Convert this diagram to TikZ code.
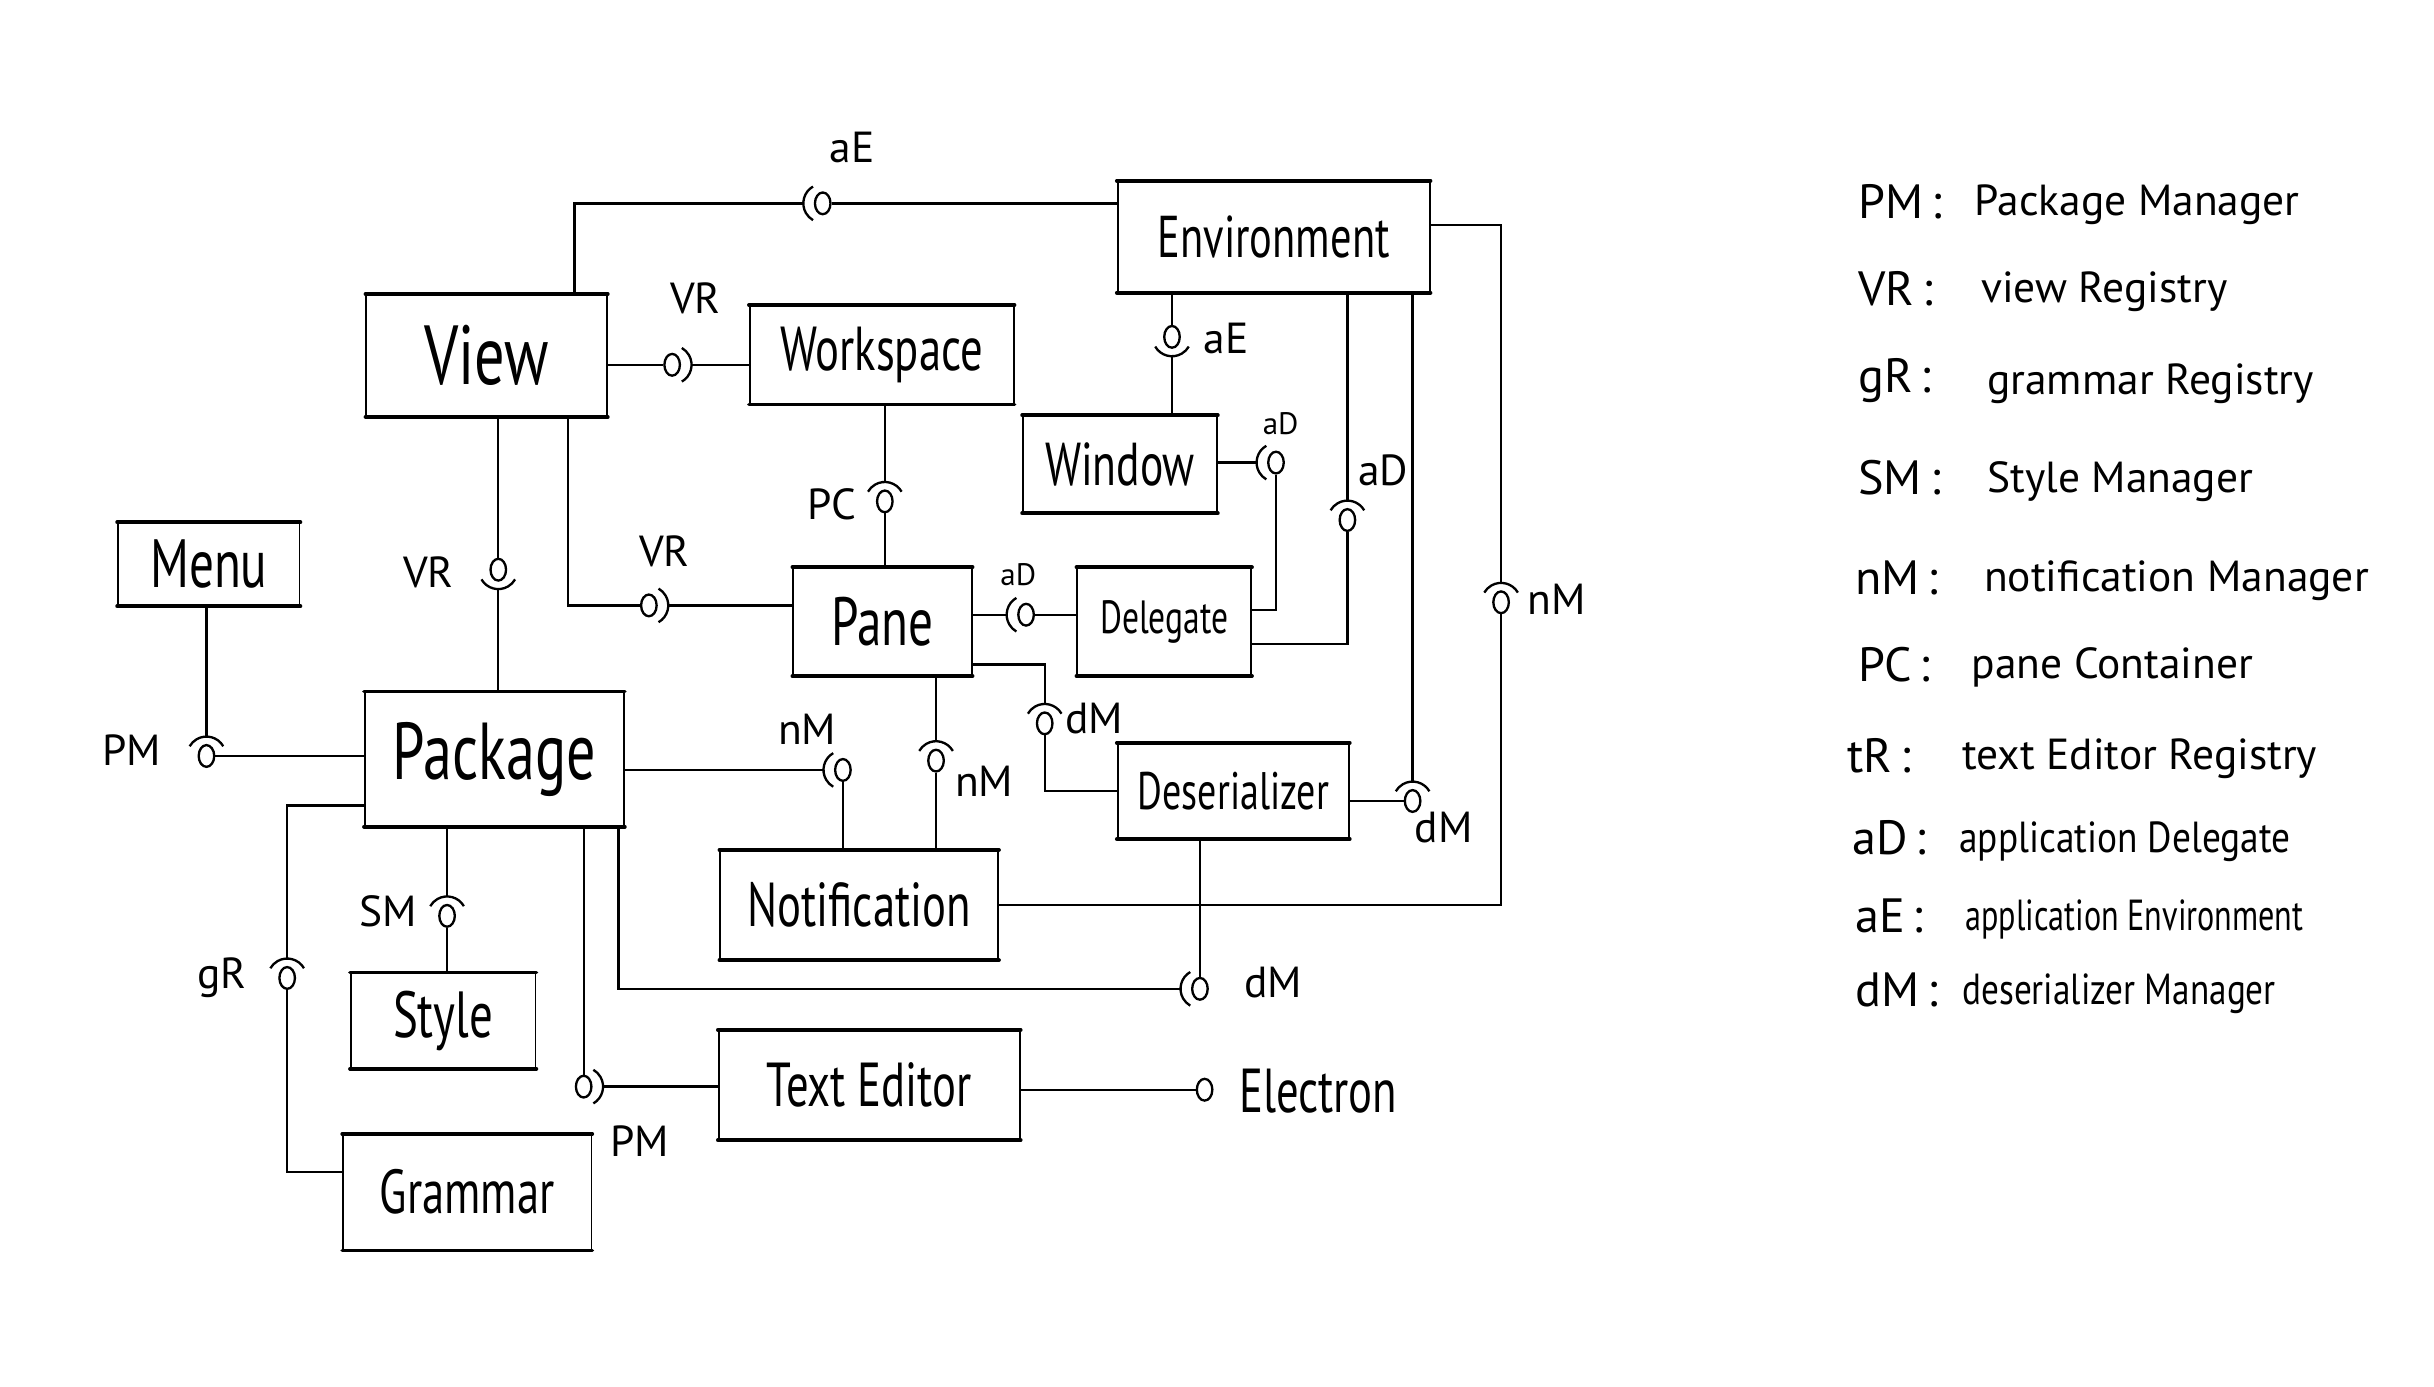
\documentclass[tikz,border=0pt]{standalone}
\usepackage{fontspec}
\usetikzlibrary{calc,shapes.geometric}
\newfontfamily\hand[FakeStretch=0.72]{PT Sans}
\newfontfamily\legfont{PT Sans}
\newcommand\myfs[1]{\fontsize{#1}{#1}\selectfont}
\newcommand\sockarc[3]{\draw[conn] ($(#1)+(#2:12.5pt)$) arc[start angle=#2,end angle=#3,radius=12.5pt];}
\tikzset{
  compbox/.style={draw,line width=1.1pt,inner sep=0pt,font=\hand},
  edgeline/.style={line width=2.4pt,line cap=round},
  conn/.style={line width=1.5pt},
  lolli/.style={draw,ellipse,line width=1.5pt,minimum width=10pt,minimum height=14pt,inner sep=0pt},
  lab/.style={font=\legfont\myfs{28},inner sep=0pt},
  slab/.style={font=\legfont\myfs{20},inner sep=0pt},
  legab/.style={font=\legfont\myfs{31},anchor=west,inner sep=0pt},
  legtx/.style={font=\legfont\myfs{28},anchor=west,inner sep=0pt},
}
\begin{document}
\begin{tikzpicture}[x=1pt,y=1pt]
\useasboundingbox (0,0) rectangle (1568,-893);
% components
\node[compbox,minimum width=201,minimum height=71,font=\hand\myfs{38}] (env) at (820.5,-152.5) {Environment};
\node[compbox,minimum width=155,minimum height=78,font=\hand\myfs{54}] (view) at (313.5,-229) {View};
\node[compbox,minimum width=170,minimum height=63,font=\hand\myfs{40}] (work) at (568,-228.5) {Workspace};
\node[compbox,minimum width=125,minimum height=62,font=\hand\myfs{39}] (win) at (721.5,-299) {Window};
\node[compbox,minimum width=117,minimum height=53,font=\hand\myfs{44}] (menu) at (134.5,-363.5) {Menu};
\node[compbox,minimum width=115,minimum height=69,font=\hand\myfs{44}] (pane) at (568.5,-400.5) {Pane};
\node[compbox,minimum width=112,minimum height=69,font=\hand\myfs{30}] (dele) at (750,-400.5) {Delegate};
\node[compbox,minimum width=167,minimum height=86,font=\hand\myfs{52}] (pkg) at (318.5,-489) {Package};
\node[compbox,minimum width=149,minimum height=61,font=\hand\myfs{34}] (des) at (794.5,-509.5) {Deserializer};
\node[compbox,minimum width=179,minimum height=70,font=\hand\myfs{40}] (noti) at (553.5,-583) {Notification};
\node[compbox,minimum width=119,minimum height=61,font=\hand\myfs{42}] (style) at (285.5,-657.5) {Style};
\node[compbox,minimum width=194,minimum height=70,font=\hand\myfs{40}] (ted) at (560,-699) {Text Editor};
\node[compbox,minimum width=160,minimum height=74,font=\hand\myfs{40}] (gram) at (301,-768) {Grammar};
\foreach \n in {env,view,work,win,menu,pane,dele,pkg,des,noti,style,ted,gram}
  \draw[edgeline] (\n.north west) -- (\n.north east) (\n.south west) -- (\n.south east);

% balls
\node[lolli] (b1) at (530,-131) {};
\node[lolli] (b2) at (433,-235) {};
\node[lolli] (b3) at (755,-217) {};
\node[lolli] (b4) at (822,-298) {};
\node[lolli] (b5) at (868,-335) {};
\node[lolli] (b6) at (910,-516) {};
\node[lolli] (b7) at (967,-388) {};
\node[lolli] (b8) at (570,-323) {};
\node[lolli] (b9) at (418,-390) {};
\node[lolli] (b10) at (321,-367) {};
\node[lolli] (b11) at (661,-396) {};
\node[lolli] (b12) at (673,-466) {};
\node[lolli] (b13) at (133,-487) {};
\node[lolli] (b14) at (543,-496) {};
\node[lolli] (b15) at (603,-490) {};
\node[lolli] (b16) at (185,-630) {};
\node[lolli] (b17) at (288,-590) {};
\node[lolli] (b18) at (376,-700) {};
\node[lolli] (b19) at (773,-637) {};
\node[lolli] (b20) at (776,-702) {};

% socket apex coordinates
\coordinate (s1) at ($(b1)+(-12.5,0)$);
\coordinate (s2) at ($(b2)+(12.5,0)$);
\coordinate (s3) at ($(b3)+(0,-12.5)$);
\coordinate (s4) at ($(b4)+(-12.5,0)$);
\coordinate (s5) at ($(b5)+(0,12.5)$);
\coordinate (s6) at ($(b6)+(0,12.5)$);
\coordinate (s7) at ($(b7)+(0,12.5)$);
\coordinate (s8) at ($(b8)+(0,12.5)$);
\coordinate (s9) at ($(b9)+(12.5,0)$);
\coordinate (s10) at ($(b10)+(0,-12.5)$);
\coordinate (s11) at ($(b11)+(-12.5,0)$);
\coordinate (s12) at ($(b12)+(0,12.5)$);
\coordinate (s13) at ($(b13)+(0,12.5)$);
\coordinate (s14) at ($(b14)+(-12.5,0)$);
\coordinate (s15) at ($(b15)+(0,12.5)$);
\coordinate (s16) at ($(b16)+(0,12.5)$);
\coordinate (s17) at ($(b17)+(0,12.5)$);
\coordinate (s18) at ($(b18)+(12.5,0)$);
\coordinate (s19) at ($(b19)+(-12.5,0)$);

% socket arcs
\sockarc{b1}{120}{240}
\sockarc{b2}{-60}{60}
\sockarc{b3}{210}{330}
\sockarc{b4}{120}{240}
\sockarc{b5}{30}{150}
\sockarc{b6}{30}{150}
\sockarc{b7}{30}{150}
\sockarc{b8}{30}{150}
\sockarc{b9}{-60}{60}
\sockarc{b10}{210}{330}
\sockarc{b11}{120}{240}
\sockarc{b12}{30}{150}
\sockarc{b13}{30}{150}
\sockarc{b14}{120}{240}
\sockarc{b15}{30}{150}
\sockarc{b16}{30}{150}
\sockarc{b17}{30}{150}
\sockarc{b18}{-60}{60}
\sockarc{b19}{120}{240}

% connectors
\draw[conn] ([xshift=56.5]view.north) |- (s1);
\draw[conn] (b1.east) -- (b1 -| env.west);
\draw[conn] (b2 -| view.east) -- (b2.west);
\draw[conn] (s2) -- (s2 -| work.west);
\draw[conn] (b3 |- env.south) -- (b3.north);
\draw[conn] (s3) -- (s3 |- win.north);
\draw[conn] (s4 -| win.east) -- (s4);
\draw[conn] (b4.south) |- ([yshift=7.5]dele.east);
\draw[conn] (b5 |- env.south) -- (s5);
\draw[conn] (b5.south) |- ([yshift=-14.5]dele.east);
\draw[conn] (b6 |- env.south) -- (s6);
\draw[conn] (b6.west) -- (b6 -| des.east);
\draw[conn] ([yshift=7.5]env.east) -| (s7);
\draw[conn] (b7.south) |- (noti.east);
\draw[conn] (s8 |- work.south) -- (s8);
\draw[conn] (b8.south) -- (b8 |- pane.north);
\draw[conn] ([xshift=52.5]view.south) |- (b9.west);
\draw[conn] (s9) -- (s9 -| pane.west);
\draw[conn] (b10 |- view.south) -- (b10.north);
\draw[conn] (s10) -- (s10 |- pkg.north);
\draw[conn] (s11 -| pane.east) -- (s11);
\draw[conn] (b11.east) -- (b11 -| dele.west);
\draw[conn] ([yshift=-27.5]pane.east) -| (s12);
\draw[conn] (b12.south) |- (des.west);
\draw[conn] (s13 |- menu.south) -- (s13);
\draw[conn] (b13.east) -- (b13 -| pkg.west);
\draw[conn] (s14 -| pkg.east) -- (s14);
\draw[conn] (b14.south) -- (b14 |- noti.north);
\draw[conn] (s15 |- pane.south) -- (s15);
\draw[conn] (b15.south) -- (b15 |- noti.north);
\draw[conn] ([yshift=-30]pkg.west) -| (s16);
\draw[conn] (b16.south) |- ([yshift=13]gram.west);
\draw[conn] (s17 |- pkg.south) -- (s17);
\draw[conn] (b17.south) -- (b17 |- style.north);
\draw[conn] (b18 |- pkg.south) -- (b18.north);
\draw[conn] (s18) -- (s18 -| ted.west);
\draw[conn] ([xshift=80]pkg.south) |- (s19);
\draw[conn] (b19.north) -- (b19 |- des.south);
\draw[conn] (b20 -| ted.east) -- (b20.west);

% interface labels
\node[lab] (l1) at (549,-95) {aE};
\node[lab] (l2) at (448,-192) {VR};
\node[lab] (l3) at (790,-218) {aE};
\node[slab] (l4) at (825,-273) {aD};
\node[lab] (l5) at (891,-303) {aD};
\node[lab] (l6) at (930,-533) {dM};
\node[lab] (l7) at (1003,-386) {nM};
\node[lab] (l8) at (536,-325) {PC};
\node[lab] (l9) at (428,-355) {VR};
\node[lab] (l10) at (276,-369) {VR};
\node[slab] (l11) at (656,-370) {aD};
\node[lab] (l12) at (705,-463) {dM};
\node[lab] (l13) at (85,-483) {PM};
\node[lab] (l14) at (520,-470) {nM};
\node[lab] (l15) at (634,-503) {nM};
\node[lab] (l16) at (143,-630) {gR};
\node[lab] (l17) at (250,-587) {SM};
\node[lab] (l18) at (412,-735) {PM};
\node[lab] (l19) at (820,-633) {dM};
\node[font=\hand\myfs{40},anchor=west,inner sep=0pt] (l20) at (798,-703) {Electron};

% legend
\node[legab] (a1) at (1197,-130) {PM\,:};
\node[legtx] (t1) at (1272,-132) {Package Manager};
\node[legab] (a2) at (1197,-186) {VR\,:};
\node[legtx] (t2) at (1276,-188) {view Registry};
\node[legab] (a3) at (1197,-245) {gR\,:};
\node[legtx] (t3) at (1280,-247) {grammar Registry};
\node[legab] (a4) at (1197,-308) {SM\,:};
\node[legtx] (t4) at (1280,-310) {Style Manager};
\node[legab] (a5) at (1195,-372) {nM\,:};
\node[legtx] (t5) at (1278,-374) {notification Manager};
\node[legab] (a6) at (1197,-428) {PC\,:};
\node[legtx] (t6) at (1270,-430) {pane Container};
\node[legab] (a7) at (1190,-487) {tR\,:};
\node[legtx] (t7) at (1264,-489) {text Editor Registry};
\node[legab] (a8) at (1193,-540) {aD\,:};
\node[legtx] (t8) at (1262,-542) {\scalebox{0.86}[1]{application Delegate}};
\node[legab] (a9) at (1195,-590) {aE\,:};
\node[legtx] (t9) at (1266,-592) {\scalebox{0.74}[1]{application Environment}};
\node[legab] (a10) at (1195,-638) {dM\,:};
\node[legtx] (t10) at (1264,-640) {\scalebox{0.81}[1]{deserializer Manager}};
\end{tikzpicture}
\end{document}
